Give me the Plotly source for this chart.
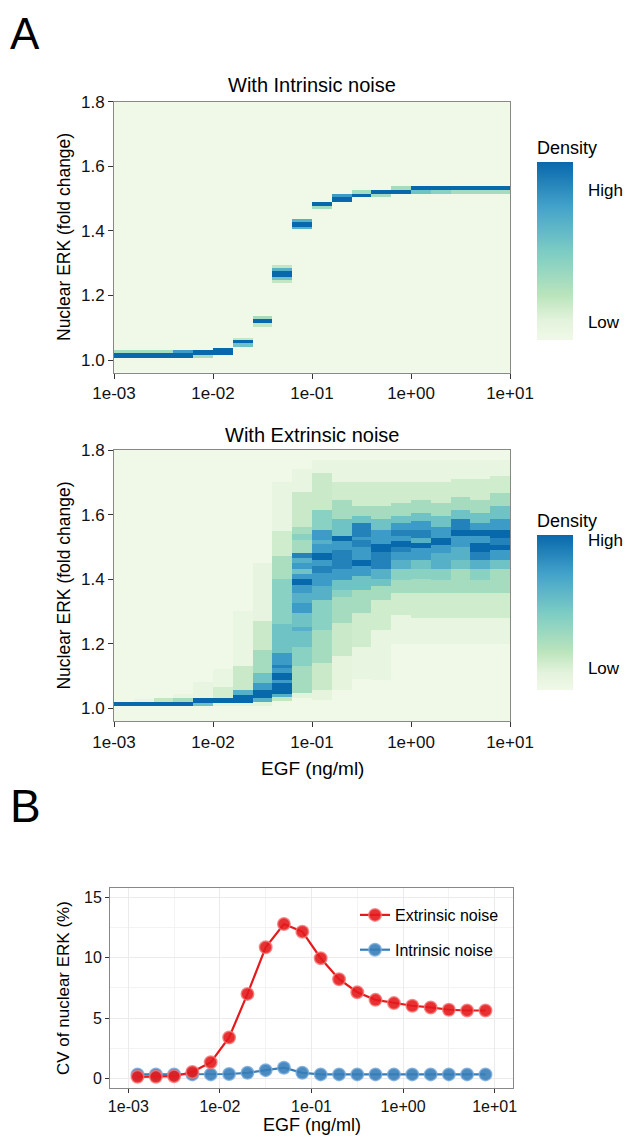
import numpy as np
import plotly.graph_objects as go

# ---------------- data ----------------
egf_ngml = [0.00126, 0.002, 0.00316, 0.005, 0.00794, 0.0126, 0.02, 0.0316, 0.05, 0.0794,
            0.126, 0.2, 0.316, 0.5, 0.794, 1.26, 2.0, 3.16, 5.0, 7.94]
x_tick_vals = [1e-3, 1e-2, 1e-1, 1e0, 1e1]
x_tick_text = ["1e-03", "1e-02", "1e-01", "1e+00", "1e+01"]
erk_tick_vals = [1.0, 1.2, 1.4, 1.6, 1.8]
erk_tick_text = ["1.0", "1.2", "1.4", "1.6", "1.8"]
cv_tick_vals = [0, 5, 10, 15]

cv_extrinsic = [0.15, 0.15, 0.2, 0.55, 1.35, 3.4, 7.0, 10.85, 12.77, 12.14,
                9.95, 8.21, 7.14, 6.51, 6.24, 6.02, 5.88, 5.69, 5.63, 5.63]
cv_intrinsic = [0.35, 0.35, 0.35, 0.35, 0.35, 0.38, 0.48, 0.7, 0.9, 0.48,
                0.35, 0.35, 0.35, 0.35, 0.35, 0.35, 0.35, 0.35, 0.35, 0.35]

# density read per EGF column: (ERK low, ERK high, density level 0-9); later entries overwrite
intrinsic_bands = [
    [(1.019, 1.029, 3), (1.005, 1.019, 9)],
    [(1.019, 1.029, 3), (1.005, 1.019, 9)],
    [(1.019, 1.029, 3), (1.005, 1.019, 9)],
    [(1.019, 1.029, 7), (1.005, 1.019, 9)],
    [(1.005, 1.016, 3), (1.016, 1.029, 9)],
    [(1.016, 1.038, 9)],
    [(1.062, 1.067, 2), (1.041, 1.052, 5), (1.052, 1.062, 9)],
    [(1.126, 1.136, 3), (1.103, 1.114, 2), (1.114, 1.126, 9)],
    [(1.284, 1.294, 2), (1.274, 1.284, 6), (1.248, 1.258, 5), (1.237, 1.248, 2), (1.258, 1.274, 9)],
    [(1.428, 1.434, 6), (1.405, 1.413, 6), (1.413, 1.428, 9)],
    [(1.467, 1.477, 3), (1.477, 1.490, 9)],
    [(1.504, 1.514, 7), (1.490, 1.504, 9)],
    [(1.514, 1.526, 3), (1.504, 1.514, 9)],
    [(1.504, 1.514, 3), (1.514, 1.526, 9)],
    [(1.526, 1.539, 3), (1.514, 1.526, 9)],
    [(1.514, 1.526, 5), (1.526, 1.539, 9)],
    [(1.514, 1.526, 4), (1.526, 1.539, 9)],
    [(1.514, 1.526, 3), (1.526, 1.539, 9)],
    [(1.514, 1.526, 3), (1.526, 1.539, 9)],
    [(1.514, 1.526, 3), (1.526, 1.539, 9)],
]

extrinsic_bands = [
    [(1.005, 1.018, 9)],
    [(1.018, 1.028, 0.6), (1.005, 1.018, 9)],
    [(1.018, 1.030, 2), (1.005, 1.018, 9)],
    [(1.030, 1.045, 0.6), (1.018, 1.031, 3), (1.005, 1.018, 9)],
    [(1.031, 1.080, 0.6), (1.005, 1.016, 5), (1.016, 1.031, 9)],
    [(1.030, 1.120, 0.5), (1.032, 1.065, 1.5), (1.005, 1.016, 1), (1.016, 1.032, 9)],
    [(1.060, 1.300, 0.5), (1.057, 1.130, 1.8), (1.041, 1.057, 6), (1.005, 1.016, 1), (1.016, 1.041, 9)],
    [(1.270, 1.450, 0.7), (1.180, 1.270, 1.8), (1.108, 1.180, 3), (1.077, 1.108, 5), (1.057, 1.077, 7),
     (1.018, 1.031, 6), (1.005, 1.018, 1), (1.031, 1.057, 9)],
    [(1.550, 1.700, 0.6), (1.470, 1.550, 1.6), (1.400, 1.470, 2.8), (1.260, 1.400, 4), (1.170, 1.260, 5),
     (1.108, 1.170, 7), (1.125, 1.135, 8), (1.088, 1.108, 9), (1.077, 1.088, 7), (1.046, 1.077, 9),
     (1.036, 1.046, 6), (1.022, 1.036, 2)],
    [(1.670, 1.740, 0.6), (1.560, 1.670, 1.8), (1.480, 1.560, 3), (1.520, 1.540, 4), (1.465, 1.480, 8),
     (1.450, 1.465, 6), (1.430, 1.450, 7), (1.415, 1.430, 5), (1.400, 1.415, 7), (1.382, 1.400, 9),
     (1.357, 1.382, 7), (1.326, 1.357, 6), (1.295, 1.326, 7), (1.190, 1.295, 5), (1.240, 1.250, 6),
     (1.130, 1.190, 4), (1.047, 1.130, 3), (1.030, 1.047, 1)],
    [(1.730, 1.770, 0.6), (1.615, 1.730, 1.8), (1.553, 1.615, 4), (1.480, 1.553, 7), (1.510, 1.520, 6),
     (1.460, 1.480, 9), (1.440, 1.460, 7), (1.420, 1.440, 8), (1.377, 1.420, 7), (1.336, 1.377, 6),
     (1.243, 1.336, 4), (1.140, 1.243, 3), (1.057, 1.140, 1.8), (1.026, 1.057, 0.8)],
    [(1.700, 1.770, 0.6), (1.646, 1.700, 1.6), (1.584, 1.646, 3), (1.532, 1.584, 5), (1.517, 1.532, 9),
     (1.490, 1.517, 7), (1.460, 1.490, 8), (1.430, 1.460, 8), (1.398, 1.430, 7), (1.367, 1.398, 5),
     (1.346, 1.367, 4), (1.264, 1.346, 3), (1.160, 1.264, 1.8), (1.057, 1.160, 0.8)],
    [(1.700, 1.770, 0.6), (1.625, 1.700, 1.6), (1.594, 1.625, 3), (1.574, 1.594, 5), (1.500, 1.574, 8),
     (1.520, 1.530, 7), (1.460, 1.500, 7), (1.440, 1.460, 9), (1.410, 1.440, 7), (1.367, 1.410, 5),
     (1.295, 1.367, 3), (1.190, 1.295, 1.6), (1.090, 1.190, 0.6)],
    [(1.700, 1.770, 0.6), (1.625, 1.700, 1.6), (1.584, 1.625, 3), (1.553, 1.584, 5), (1.510, 1.553, 7),
     (1.485, 1.510, 9), (1.430, 1.485, 8), (1.400, 1.430, 6), (1.377, 1.400, 5), (1.336, 1.377, 3),
     (1.243, 1.336, 1.6), (1.088, 1.243, 0.6)],
    [(1.700, 1.770, 0.6), (1.636, 1.700, 1.6), (1.594, 1.636, 3), (1.574, 1.594, 5), (1.553, 1.574, 7),
     (1.532, 1.553, 8), (1.517, 1.532, 7), (1.501, 1.517, 9), (1.486, 1.501, 8), (1.460, 1.486, 7),
     (1.430, 1.460, 6), (1.398, 1.430, 4), (1.357, 1.398, 3), (1.290, 1.357, 1.6), (1.200, 1.290, 0.6)],
    [(1.700, 1.770, 0.6), (1.646, 1.700, 1.6), (1.605, 1.646, 3), (1.579, 1.605, 5), (1.553, 1.579, 7),
     (1.527, 1.553, 8), (1.512, 1.527, 6), (1.496, 1.512, 9), (1.460, 1.496, 7), (1.430, 1.460, 5),
     (1.400, 1.430, 4), (1.357, 1.400, 3), (1.280, 1.357, 1.6), (1.200, 1.280, 0.6)],
    [(1.700, 1.770, 0.6), (1.636, 1.700, 1.6), (1.594, 1.636, 3), (1.563, 1.594, 5), (1.527, 1.563, 7),
     (1.506, 1.527, 9), (1.480, 1.506, 7), (1.430, 1.480, 6), (1.398, 1.430, 4), (1.357, 1.398, 3),
     (1.280, 1.357, 1.6), (1.200, 1.280, 0.6)],
    [(1.710, 1.770, 0.6), (1.656, 1.710, 1.6), (1.615, 1.656, 3), (1.584, 1.615, 5), (1.553, 1.584, 8),
     (1.532, 1.553, 9), (1.501, 1.532, 7), (1.460, 1.501, 6), (1.430, 1.460, 5), (1.357, 1.430, 3),
     (1.280, 1.357, 1.6), (1.200, 1.280, 0.6)],
    [(1.710, 1.770, 0.6), (1.646, 1.710, 1.6), (1.605, 1.646, 3), (1.574, 1.605, 5), (1.553, 1.574, 7),
     (1.532, 1.553, 9), (1.512, 1.532, 7), (1.486, 1.512, 9), (1.460, 1.486, 8), (1.430, 1.460, 6),
     (1.398, 1.430, 4), (1.357, 1.398, 3), (1.280, 1.357, 1.6), (1.200, 1.280, 0.6)],
    [(1.720, 1.770, 0.6), (1.667, 1.720, 1.6), (1.625, 1.667, 3), (1.584, 1.625, 5), (1.553, 1.584, 7),
     (1.527, 1.553, 9), (1.506, 1.527, 8), (1.491, 1.506, 9), (1.460, 1.491, 7), (1.430, 1.460, 5),
     (1.357, 1.430, 3), (1.280, 1.357, 1.6), (1.200, 1.280, 0.6)],
]

# ---------------- build grids ----------------
erk_centers = np.arange(0.96125, 1.8, 0.0025)


def band_grid(bands):
    z = np.zeros((len(erk_centers), len(bands)))
    for j, segs in enumerate(bands):
        for lo, hi, lev in segs:
            m = (erk_centers >= lo) & (erk_centers < hi)
            z[m, j] = lev
    return z


z_int = band_grid(intrinsic_bands)
z_ext = band_grid(extrinsic_bands)
log_egf = np.log10(egf_ngml)

# page has an 8px body margin; figure sized to fit the 635x1143 window exactly
OFF = 8
W, H = 635 - 2 * OFF, 1143 - 2 * OFF
FONT = "Liberation Sans, Arial, Helvetica, sans-serif"
gnbu = [[0.0, "#f0f9e8"], [0.111, "#e3f3dc"], [0.25, "#bae4bc"], [0.5, "#7bccc4"],
        [0.75, "#43a2ca"], [1.0, "#0868ac"]]


def px_x(p):
    return (p - OFF) / W


def px_y(p):
    return 1 - (p - OFF) / H


TITLE_H = 25


def cbar(top, bottom, hi_val, lo_val):
    # len includes the title block above the bar
    t = top - TITLE_H
    return dict(
        title=dict(text="Density", side="top", font=dict(size=18, family=FONT, color="#000")),
        x=px_x(537), xanchor="left", xpad=0, ypad=0,
        y=px_y((t + bottom) / 2), yanchor="middle",
        len=bottom - t, lenmode="pixels", thickness=36, thicknessmode="pixels",
        outlinewidth=0, tickvals=[lo_val, hi_val], ticktext=["Low", "High"],
        ticks="outside", ticklen=12, tickcolor="rgba(0,0,0,0)",
        tickfont=dict(size=17, family=FONT, color="#000"),
    )


fig = go.Figure()
fig.add_trace(go.Heatmap(x=log_egf, y=erk_centers, z=z_int, zmin=0, zmax=9, colorscale=gnbu,
                         xaxis="x", yaxis="y", colorbar=cbar(162, 340, 7.58, 0.91), hoverinfo="skip"))
fig.add_trace(go.Heatmap(x=log_egf, y=erk_centers, z=z_ext, zmin=0, zmax=9, colorscale=gnbu,
                         xaxis="x2", yaxis="y2", colorbar=cbar(535, 690, 8.7, 1.28), hoverinfo="skip"))

fig.add_trace(go.Scatter(x=egf_ngml, y=cv_intrinsic, mode="lines+markers", name="Intrinsic noise",
                         xaxis="x3", yaxis="y3", legendrank=2, legendgroup="b",
                         line=dict(color="#377eb8", width=2.2),
                         marker=dict(size=12.5, color="rgba(55,126,184,0.9)",
                                     line=dict(color="rgba(120,170,220,0.8)", width=1.5))))
fig.add_trace(go.Scatter(x=egf_ngml, y=cv_extrinsic, mode="lines+markers", name="Extrinsic noise",
                         xaxis="x3", yaxis="y3", legendrank=1, legendgroup="a",
                         line=dict(color="#e41a1c", width=2.2),
                         marker=dict(size=12.5, color="rgba(228,26,28,0.9)",
                                     line=dict(color="rgba(245,120,120,0.8)", width=1.5))))

hm_x = dict(range=[-3, 1], tickvals=list(np.log10(x_tick_vals)), ticktext=x_tick_text,
            ticks="outside", ticklen=5, tickwidth=1.2, tickcolor="#333", automargin=False,
            showline=True, mirror=True, linecolor="#888", linewidth=1,
            showgrid=False, zeroline=False,
            tickfont=dict(size=17, family=FONT, color="#111"), domain=[px_x(114), px_x(510)])
hm_y = dict(range=[0.96, 1.8], tickvals=erk_tick_vals, ticktext=erk_tick_text,
            ticks="outside", ticklen=5, tickwidth=1.2, tickcolor="#333", automargin=False,
            showline=True, mirror=True, linecolor="#888", linewidth=1,
            showgrid=False, zeroline=False,
            tickfont=dict(size=17, family=FONT, color="#111"))

CV_SHIFT = -3

fig.update_layout(
    template="none",
    width=W, height=H, margin=dict(l=0, r=0, t=0, b=0, autoexpand=False),
    paper_bgcolor="white", plot_bgcolor="white",
    font=dict(family=FONT, color="#000"),
    xaxis=dict(hm_x, anchor="y"),
    yaxis=dict(hm_y, anchor="x", domain=[px_y(373), px_y(101.7)]),
    xaxis2=dict(hm_x, anchor="y2"),
    yaxis2=dict(hm_y, anchor="x2", domain=[px_y(721.2), px_y(450)]),
    xaxis3=dict(type="log", range=[-3.2, 1.2], tickvals=x_tick_vals, ticktext=x_tick_text,
                anchor="y3", domain=[px_x(110), px_x(513)], automargin=False,
                ticks="outside", ticklen=4, tickwidth=1.2, tickcolor="#333",
                showline=True, mirror=True, linecolor="#888", linewidth=1,
                showgrid=True, gridcolor="#ebebeb", gridwidth=1, zeroline=False,
                minor=dict(tickvals=[10 ** -2.5, 10 ** -1.5, 10 ** -0.5, 10 ** 0.5],
                           showgrid=True, gridcolor="#f3f3f3", gridwidth=0.6, ticks=""),
                tickfont=dict(size=16, family=FONT, color="#111")),
    yaxis3=dict(range=[-0.75, 15.75], tickvals=cv_tick_vals, anchor="x3",
                domain=[px_y(1090.7 + CV_SHIFT), px_y(891 + CV_SHIFT)], automargin=False,
                ticks="outside", ticklen=4, tickwidth=1.2, tickcolor="#333",
                showline=True, mirror=True, linecolor="#888", linewidth=1,
                showgrid=True, gridcolor="#ebebeb", gridwidth=1, zeroline=False,
                minor=dict(tickvals=[2.5, 7.5, 12.5], showgrid=True, gridcolor="#f3f3f3",
                           gridwidth=0.6, ticks=""),
                tickfont=dict(size=16, family=FONT, color="#111")),
    legend=dict(x=px_x(355), y=px_y(901 + CV_SHIFT), xanchor="left", yanchor="top",
                bgcolor="rgba(0,0,0,0)", borderwidth=0,
                font=dict(size=16, family=FONT, color="#000"),
                tracegroupgap=11, itemwidth=30),
    showlegend=True,
)


def ann(text, x, y, size, angle=0, xanchor="center"):
    fig.add_annotation(text=text, x=px_x(x), y=px_y(y), xref="paper", yref="paper",
                       showarrow=False, textangle=angle, xanchor=xanchor, yanchor="middle",
                       font=dict(size=size, family=FONT, color="#000"))


ann("A", 8, 34, 44, xanchor="left")
ann("B", 8, 806, 46, xanchor="left")
ann("With Intrinsic noise", 312, 85, 20)
ann("With Extrinsic noise", 312, 435, 20)
ann("Nuclear ERK (fold change)", 64, 237, 17.5, angle=-90)
ann("Nuclear ERK (fold change)", 64, 585.6, 17.5, angle=-90)
ann("EGF (ng/ml)", 312, 768, 19)
ann("CV of nuclear ERK (%)", 63, 991 + CV_SHIFT, 17, angle=-90)
ann("EGF (ng/ml)", 311.5, 1124.5, 18)

fig.write_html("out.html")
